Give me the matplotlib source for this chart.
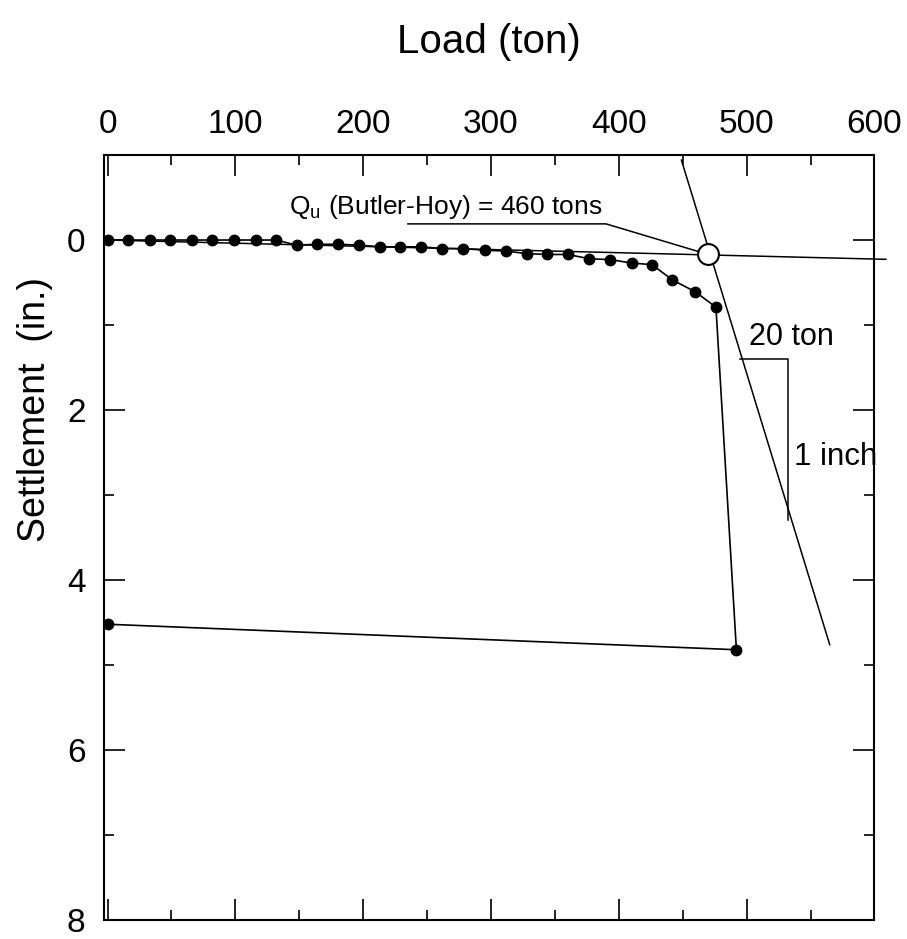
import matplotlib
matplotlib.use('Agg')
import matplotlib.pyplot as plt
from matplotlib.ticker import MultipleLocator

plt.rcParams['font.family'] = ['Liberation Sans', 'DejaVu Sans']
plt.rcParams['mathtext.fontset'] = 'custom'
plt.rcParams['mathtext.rm'] = 'Liberation Sans'
plt.rcParams['mathtext.it'] = 'Liberation Sans'

# load test data (ton, in.)
load = [0, 16, 33, 49, 66, 82, 99, 116, 132, 148, 164, 180, 197, 213, 229, 245,
        262, 278, 295, 312, 328, 344, 360, 377, 393, 410, 426, 442, 460, 476, 492, 0]
settlement = [0, 0, 0, 0, 0, 0, 0, 0, 0, 0.06, 0.05, 0.05, 0.06, 0.08, 0.08, 0.08,
              0.10, 0.10, 0.12, 0.13, 0.16, 0.17, 0.17, 0.22, 0.23, 0.27, 0.29, 0.47,
              0.61, 0.79, 4.82, 4.52]

# Butler-Hoy construction
tangent_x = [0, 609]
tangent_y = [0, 0.227]
slope_x = [449, 565]
slope_y = [-0.94, 4.76]
triangle_x = [495, 532, 532]
triangle_y = [1.40, 1.40, 3.29]
leader_x = [235, 390, 470]
leader_y = [-0.19, -0.19, 0.17]
qu_load = 470
qu_settle = 0.17

fig = plt.figure(figsize=(9.07, 9.39), dpi=100)
ax = fig.add_axes([0.1143, 0.0202, 0.8498, 0.8147])

ax.plot(load, settlement, '-o', color='black', lw=1.2, ms=7.5, zorder=4)
ax.plot(tangent_x, tangent_y, color='black', lw=1.1, clip_on=False)
ax.plot(slope_x, slope_y, color='black', lw=1.1, clip_on=False)
ax.plot(triangle_x, triangle_y, color='black', lw=1.1)
ax.plot(leader_x, leader_y, color='black', lw=1.1)
ax.plot([qu_load], [qu_settle], 'o', mfc='white', mec='black', ms=15, mew=1.5, zorder=6)

ax.text(142, -0.31, r'Q$_\mathrm{u}$ (Butler-Hoy) = 460 tons', fontsize=19, va='baseline')
ax.text(502, 1.24, '20 ton', fontsize=22, va='baseline')
ax.text(537, 2.65, '1 inch', fontsize=22.5, va='baseline')

ax.set_xlim(-3, 600)
ax.set_ylim(8, -1)
ax.xaxis.set_major_locator(MultipleLocator(100))
ax.xaxis.set_minor_locator(MultipleLocator(50))
ax.yaxis.set_major_locator(MultipleLocator(2))
ax.yaxis.set_minor_locator(MultipleLocator(1))
ax.tick_params(which='both', direction='in', top=True, bottom=True, left=True, right=True,
               labeltop=True, labelbottom=False, width=1.2, labelsize=24)
ax.tick_params(axis='x', pad=11)
ax.tick_params(axis='y', pad=13)
ax.tick_params(which='major', length=15)
ax.tick_params(which='minor', length=7.5)
for s in ax.spines.values():
    s.set_linewidth(1.5)

ax.xaxis.set_label_position('top')
ax.set_xlabel('Load (ton)', fontsize=29, labelpad=40)
ax.set_ylabel('Settlement  (in.)', fontsize=27)
ax.yaxis.set_label_coords(-0.066, 0.667)

plt.savefig('out.png', dpi=100)
plt.close()
